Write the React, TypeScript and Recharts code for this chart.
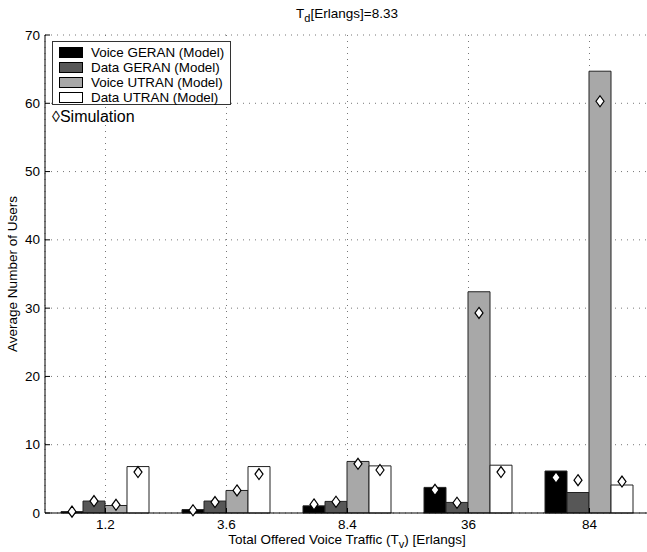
import React from 'react';
import { BarChart, Bar, XAxis, YAxis, CartesianGrid, Legend } from 'recharts';

const categories = ['1.2', '3.6', '8.4', '36', '84'];
const seriesNames = ['Voice GERAN (Model)', 'Data GERAN (Model)', 'Voice UTRAN (Model)', 'Data UTRAN (Model)'];
const seriesColors = ['#000000', '#575757', '#a8a8a8', '#ffffff'];

const voiceGeranModel = [0.2, 0.5, 1.05, 3.75, 6.15];
const dataGeranModel = [1.75, 1.75, 1.7, 1.55, 3.0];
const voiceUtranModel = [1.1, 3.3, 7.55, 32.4, 64.7];
const dataUtranModel = [6.8, 6.8, 6.9, 7.0, 4.1];

const voiceGeranSim = [0.2, 0.4, 1.25, 3.4, 5.2];
const dataGeranSim = [1.75, 1.6, 1.65, 1.5, 4.8];
const voiceUtranSim = [1.2, 3.3, 7.2, 29.3, 60.3];
const dataUtranSim = [6.0, 5.7, 6.3, 6.0, 4.6];

const yTicks = [0, 10, 20, 30, 40, 50, 60, 70];

const modelKeys = ['vgM', 'dgM', 'vuM', 'duM'];
const simKeys = ['vgS', 'dgS', 'vuS', 'duS'];

const data = categories.map((cat, i) => ({
  cat,
  vgM: voiceGeranModel[i],
  dgM: dataGeranModel[i],
  vuM: voiceUtranModel[i],
  duM: dataUtranModel[i],
  vgS: voiceGeranSim[i],
  dgS: dataGeranSim[i],
  vuS: voiceUtranSim[i],
  duS: dataUtranSim[i],
}));

const FONT = '"Liberation Sans", Arial, Helvetica, sans-serif';
const W = 680;
const H = 552;
const MARGIN = { top: 35, right: 30, left: 0, bottom: 0 };

const YTick = (props: any) => {
  const { x, y, payload } = props;
  return (
    <g>
      <line x1={x} x2={x + 5} y1={y} y2={y} stroke="#000" strokeWidth={1} />
      <text x={x - 5} y={y} textAnchor="end" dominantBaseline="central" fontSize={13.5} fontFamily={FONT} fill="#000">
        {payload.value}
      </text>
    </g>
  );
};

const XTick = (props: any) => {
  const { x, y, payload } = props;
  return (
    <g>
      <line x1={x} x2={x} y1={y} y2={y - 5} stroke="#000" strokeWidth={1} />
      <text x={x} y={y + 16} textAnchor="middle" fontSize={13.5} fontFamily={FONT} fill="#000">
        {payload.value}
      </text>
    </g>
  );
};

const TopTick = (props: any) => {
  const { x, y } = props;
  return <line x1={x} x2={x} y1={y} y2={y + 5} stroke="#000" strokeWidth={1} />;
};

const Diamond = (props: any) => {
  const { x, y, width } = props;
  if (x == null || y == null) return null;
  const cx = x + width / 2;
  const hw = 4;
  const hh = 5.5;
  return (
    <path
      d={`M${cx},${y - hh} L${cx + hw},${y} L${cx},${y + hh} L${cx - hw},${y} Z`}
      fill="#fff"
      stroke="#000"
      strokeWidth={1.2}
    />
  );
};

const LegendContent = () => (
  <div style={{ position: 'relative', width: 180, height: 90, fontFamily: FONT }}>
    <div
      style={{
        position: 'absolute',
        left: 0,
        top: 0,
        width: 179,
        height: 64,
        boxSizing: 'border-box',
        border: '1px solid #333',
        background: '#fff',
      }}
    >
      {seriesNames.map((name, i) => (
        <div key={name} style={{ position: 'absolute', left: 0, top: 2.5 + i * 15.3, height: 15.3, width: 178 }}>
          <div
            style={{
              position: 'absolute',
              left: 6,
              top: 2,
              width: 24,
              height: 11,
              boxSizing: 'border-box',
              border: '1px solid #000',
              background: seriesColors[i],
            }}
          />
          <div style={{ position: 'absolute', left: 38, top: 0, fontSize: 13.4, lineHeight: '15.3px', whiteSpace: 'nowrap', color: '#000' }}>
            {name}
          </div>
        </div>
      ))}
    </div>
    <div style={{ position: 'absolute', left: 0, top: 67, fontSize: 16, lineHeight: '18px', whiteSpace: 'nowrap', color: '#000' }}>
      ◊Simulation
    </div>
  </div>
);

export default function App() {
  return (
    <div style={{ position: 'absolute', left: 0, top: 0, width: 647, height: 552, overflow: 'hidden', background: '#fff', fontFamily: FONT }}>
      <div style={{ position: 'absolute', left: 0, top: 0 }}>
        <BarChart width={W} height={H} data={data} margin={MARGIN} barCategoryGap={16} barGap={0}>
          <CartesianGrid stroke="#777" strokeDasharray="1 5" />
          <XAxis dataKey="cat" height={39} tickSize={0} tickMargin={0} tickLine={false} axisLine={{ stroke: '#000' }} tick={<XTick />} interval={0} />
          <XAxis xAxisId="top" dataKey="cat" orientation="top" height={0} tickSize={0} tickMargin={0} tickLine={false} axisLine={{ stroke: '#000' }} tick={<TopTick />} interval={0} />
          <YAxis width={45} domain={[0, 70]} ticks={yTicks} tickSize={0} tickMargin={0} tickLine={false} axisLine={{ stroke: '#000' }} tick={<YTick />} interval={0} />
          <Legend
            layout="vertical"
            align="center"
            verticalAlign="middle"
            content={<LegendContent />}
            wrapperStyle={{ left: 52, top: 41, width: 180, height: 90 }}
          />
          {modelKeys.map((k, i) => (
            <Bar key={k} dataKey={k} name={seriesNames[i]} fill={seriesColors[i]} stroke="#222" strokeWidth={1} isAnimationActive={false} />
          ))}
        </BarChart>
      </div>
      <div style={{ position: 'absolute', left: 0, top: 0, pointerEvents: 'none' }}>
        <BarChart width={W} height={H} data={data} margin={MARGIN} barCategoryGap={16} barGap={0}>
          <XAxis dataKey="cat" height={39} tick={false} tickLine={false} axisLine={false} />
          <YAxis width={45} domain={[0, 70]} ticks={yTicks} tick={false} tickLine={false} axisLine={false} />
          {simKeys.map((k) => (
            <Bar key={k} dataKey={k} fill="none" shape={<Diamond />} isAnimationActive={false} />
          ))}
        </BarChart>
      </div>
      <div style={{ position: 'absolute', left: 247, top: 6, width: 200, textAlign: 'center', fontSize: 13.5, lineHeight: '16px', whiteSpace: 'nowrap', color: '#000' }}>
        T<sub style={{ fontSize: 11, verticalAlign: '-4px' }}>d</sub>[Erlangs]=8.33
      </div>
      <div style={{ position: 'absolute', left: 147, top: 532, width: 400, textAlign: 'center', fontSize: 13.5, lineHeight: '16px', whiteSpace: 'nowrap', color: '#000' }}>
        Total Offered Voice Traffic (T<sub style={{ fontSize: 11, verticalAlign: '-4px' }}>v</sub>) [Erlangs]
      </div>
      <div
        style={{
          position: 'absolute',
          left: 13,
          top: 274,
          transform: 'translate(-50%, -50%) rotate(-90deg)',
          fontSize: 13.5,
          lineHeight: '16px',
          whiteSpace: 'nowrap',
          color: '#000',
        }}
      >
        Average Number of Users
      </div>
    </div>
  );
}
